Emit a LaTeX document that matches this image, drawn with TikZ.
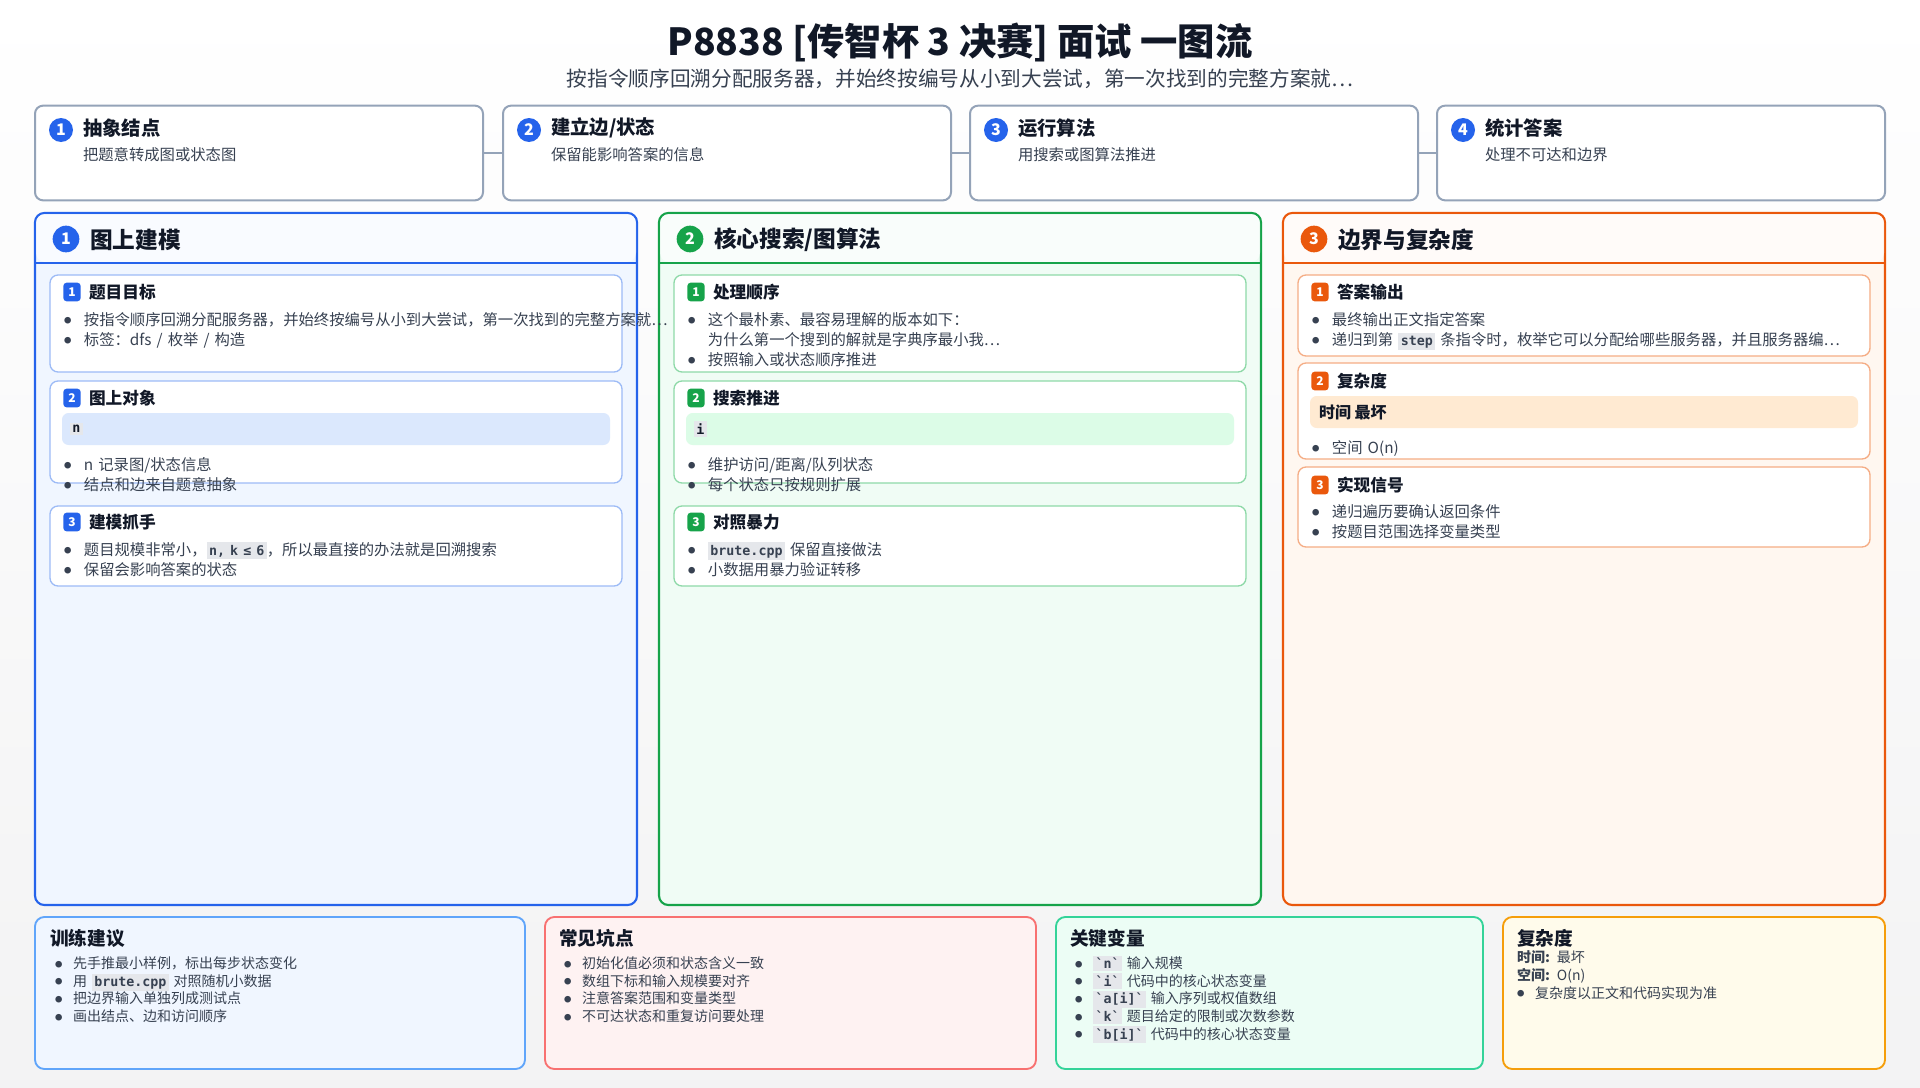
\documentclass[tikz,border=0pt]{standalone}
\usepackage{fontspec}
\setmainfont{Noto Sans CJK SC}[BoldFont={Noto Sans CJK SC Black}]
\setmonofont{DejaVu Sans Mono}
\usetikzlibrary{positioning}
\definecolor{ink}{HTML}{111827}
\definecolor{sub}{HTML}{374151}
\definecolor{bB}{HTML}{2563EB}\definecolor{bF}{HTML}{F0F6FF}\definecolor{bC}{HTML}{9DBBF6}\definecolor{bH}{HTML}{DBE8FD}
\definecolor{gB}{HTML}{16A34A}\definecolor{gF}{HTML}{F0FCF5}\definecolor{gC}{HTML}{8ED9A8}\definecolor{gH}{HTML}{DCFCE7}
\definecolor{oB}{HTML}{EA580C}\definecolor{oF}{HTML}{FFF7F0}\definecolor{oC}{HTML}{F5AD85}\definecolor{oH}{HTML}{FFEAD2}
\definecolor{topB}{HTML}{94A3B8}
\definecolor{chip}{HTML}{E5E7EB}
\newcommand\cc[1]{{\setlength\fboxsep{1.8pt}\colorbox{chip}{\ttfamily\bfseries\fontsize{10}{10}\selectfont #1}}}
\newcommand\bi[1]{\par\hangindent=1.3em\hangafter=1\noindent\makebox[1.3em][l]{\raisebox{0.1em}{\fontsize{5.5}{5.5}\selectfont●}}#1}
\tikzset{
  x=0.75pt,y=-0.75pt,
  every node/.style={inner sep=0pt,outer sep=0pt,text=ink},
  topbox/.style={draw=topB,line width=1.5pt,fill=white,rounded corners=6pt,minimum width=336pt,minimum height=71pt},
  panel/.style={line width=1.6pt,rounded corners=7pt},
  card/.style={line width=1pt,fill=white,rounded corners=6pt},
  num/.style={circle,minimum size=18pt,font=\bfseries\fontsize{12}{12}\selectfont,text=white},
  badge/.style={rounded corners=2.5pt,minimum width=13pt,minimum height=14pt,font=\bfseries\fontsize{9}{9}\selectfont,text=white},
  ptitle/.style={anchor=west,font=\bfseries\fontsize{17}{18}\selectfont},
  ctitle/.style={anchor=west,font=\bfseries\fontsize{12.5}{13}\selectfont},
  body/.style={anchor=north west,align=left,font=\fontsize{11.5}{15}\selectfont,text=sub},
  bbody/.style={anchor=north west,align=left,font=\fontsize{10.5}{13.2}\selectfont,text=sub},
  btitle/.style={anchor=west,font=\bfseries\fontsize{14}{15}\selectfont},
}
\begin{document}
\begin{tikzpicture}
\fill[white] (0,0) rectangle (1920,1088);
\shade[top color=white,bottom color=white!94!blue!40!gray!15] (0,0) rectangle (1920,1088);
\node[font=\bfseries\fontsize{28}{30}\selectfont] (title) at (960,42) {P8838 [传智杯 3 决赛] 面试 一图流};
\node[font=\fontsize{15.5}{17}\selectfont,text=sub] (subt) at (960,79) {按指令顺序回溯分配服务器，并始终按编号从小到大尝试，第一次找到的完整方案就…};
% top steps
\foreach \i/\x/\t/\s in {1/259/{抽象结点}/{把题意转成图或状态图},2/727/{建立边/状态}/{保留能影响答案的信息},3/1194/{运行算法}/{用搜索或图算法推进},4/1661/{统计答案}/{处理不可达和边界}}{
  \node[topbox] (s\i) at (\x,153) {};
  \node[num,fill=bB] (sn\i) at (\x-198,130) {\i};
  \node[anchor=west,font=\bfseries\fontsize{14.5}{15}\selectfont] (st\i) at (\x-176,128) {\t};
  \node[anchor=west,font=\fontsize{11.5}{12}\selectfont,text=sub] (ss\i) at (\x-176,155) {\s};
}
\draw[topB,line width=1.5pt] (s1.east) -- (s2.west) (s2.east) -- (s3.west) (s3.east) -- (s4.west);
% panels
\foreach \dx/\C/\F/\n/\t in {0/bB/bF/1/{图上建模},624/gB/gF/2/{核心搜索/图算法},1248/oB/oF/3/{边界与复杂度}}{
  \draw[panel,draw=\C,fill=\F] (35+\dx,213) rectangle (637+\dx,905);
  \fill[white,opacity=0.6,rounded corners=7pt] (36+\dx,214) rectangle (636+\dx,262);
  \draw[\C,line width=1.6pt] (35+\dx,263) -- (637+\dx,263);
  \node[num,fill=\C,minimum size=20pt] (pn\n) at (66+\dx,239) {\n};
  \node[ptitle] (pt\n) at (90+\dx,240) {\t};
}
% panel 1 cards
\draw[card,draw=bC] (50,275) rectangle (622,372);
\node[badge,fill=bB] (b11) at (72,292) {1}; \node[ctitle] (t11) at (89,292) {题目目标};
\node[body,text width=408pt] (x11) at (64,305) {\bi{按指令顺序回溯分配服务器，并始终按编号从小到大尝试，第一次找到的完整方案就…}\bi{标签：dfs / 枚举 / 构造}};
\draw[card,draw=bC] (50,381) rectangle (622,483);
\node[badge,fill=bB] (b12) at (72,398) {2}; \node[ctitle] (t12) at (89,398) {图上对象};
\fill[bH,rounded corners=5pt] (62,413) rectangle (610,445);
\node[anchor=west] (c12) at (70,429) {\cc{n}};
\node[body,text width=408pt] (x12) at (64,450) {\bi{n 记录图/状态信息}\bi{结点和边来自题意抽象}};
\draw[card,draw=bC] (50,506) rectangle (622,586);
\node[badge,fill=bB] (b13) at (72,522) {3}; \node[ctitle] (t13) at (89,522) {建模抓手};
\node[body,text width=408pt] (x13) at (64,535) {\bi{题目规模非常小，\cc{n, k ≤ 6}，所以最直接的办法就是回溯搜索}\bi{保留会影响答案的状态}};
% panel 2 cards
\draw[card,draw=gC] (674,275) rectangle (1246,372);
\node[badge,fill=gB] (b21) at (696,292) {1}; \node[ctitle] (t21) at (713,292) {处理顺序};
\node[body,text width=408pt] (x21) at (688,305) {\bi{这个最朴素、最容易理解的版本如下： 为什么第一个搜到的解就是字典序最小我…}\bi{按照输入或状态顺序推进}};
\draw[card,draw=gC] (674,381) rectangle (1246,483);
\node[badge,fill=gB] (b22) at (696,398) {2}; \node[ctitle] (t22) at (713,398) {搜索推进};
\fill[gH,rounded corners=5pt] (686,413) rectangle (1234,445);
\node[anchor=west] (c22) at (694,429) {\cc{i}};
\node[body,text width=408pt] (x22) at (688,450) {\bi{维护访问/距离/队列状态}\bi{每个状态只按规则扩展}};
\draw[card,draw=gC] (674,506) rectangle (1246,586);
\node[badge,fill=gB] (b23) at (696,522) {3}; \node[ctitle] (t23) at (713,522) {对照暴力};
\node[body,text width=408pt] (x23) at (688,535) {\bi{\cc{brute.cpp} 保留直接做法}\bi{小数据用暴力验证转移}};
% panel 3 cards
\draw[card,draw=oC] (1298,275) rectangle (1870,356);
\node[badge,fill=oB] (b31) at (1320,292) {1}; \node[ctitle] (t31) at (1337,292) {答案输出};
\node[body,text width=420pt] (x31) at (1312,305) {\bi{最终输出正文指定答案}\bi{递归到第 \cc{step} 条指令时，枚举它可以分配给哪些服务器，并且服务器编…}};
\draw[card,draw=oC] (1298,363) rectangle (1870,459);
\node[badge,fill=oB] (b32) at (1320,381) {2}; \node[ctitle] (t32) at (1337,381) {复杂度};
\fill[oH,rounded corners=5pt] (1310,396) rectangle (1858,428);
\node[anchor=west,font=\bfseries\fontsize{12}{12}\selectfont] (c32) at (1319,412) {时间 最坏};
\node[body,text width=420pt] (x32) at (1312,433) {\bi{空间 O(n)}};
\draw[card,draw=oC] (1298,467) rectangle (1870,547);
\node[badge,fill=oB] (b33) at (1320,485) {3}; \node[ctitle] (t33) at (1337,485) {实现信号};
\node[body,text width=420pt] (x33) at (1312,497) {\bi{递归遍历要确认返回条件}\bi{按题目范围选择变量类型}};
% bottom boxes
\definecolor{qB}{HTML}{60A5FA}
\draw[panel,line width=1.4pt,draw=qB,fill=bF] (35,917) rectangle (525,1069);
\node[btitle] (q1) at (50,938) {训练建议};
\node[bbody,text width=350pt] (q1b) at (55,951) {\bi{先手推最小样例，标出每步状态变化}\bi{用 \cc{brute.cpp} 对照随机小数据}\bi{把边界输入单独列成测试点}\bi{画出结点、边和访问顺序}};
\definecolor{rB}{HTML}{F87171}\definecolor{rF}{HTML}{FEF2F2}
\draw[panel,line width=1.4pt,draw=rB,fill=rF] (545,917) rectangle (1036,1069);
\node[btitle] (q2) at (559,938) {常见坑点};
\node[bbody,text width=350pt] (q2b) at (564,951) {\bi{初始化值必须和状态含义一致}\bi{数组下标和输入规模要对齐}\bi{注意答案范围和变量类型}\bi{不可达状态和重复访问要处理}};
\definecolor{tB}{HTML}{34D399}\definecolor{tF}{HTML}{ECFDF5}
\draw[panel,line width=1.4pt,draw=tB,fill=tF] (1056,917) rectangle (1483,1069);
\node[btitle] (q3) at (1070,938) {关键变量};
\node[bbody,text width=300pt] (q3b) at (1075,951) {\bi{\cc{`n`} 输入规模}\bi{\cc{`i`} 代码中的核心状态变量}\bi{\cc{`a[i]`} 输入序列或权值数组}\bi{\cc{`k`} 题目给定的限制或次数参数}\bi{\cc{`b[i]`} 代码中的核心状态变量}};
\definecolor{aB}{HTML}{F59E0B}\definecolor{aF}{HTML}{FFFBEB}
\draw[panel,line width=1.4pt,draw=aB,fill=aF] (1503,917) rectangle (1885,1069);
\node[btitle] (q4) at (1517,938) {复杂度};
\node[bbody,text width=260pt] (q4b) at (1517,951) {\noindent{\bfseries 时间:} 最坏\par\noindent{\bfseries 空间:} O(n)\par\leftskip=0.8em\bi{复杂度以正文和代码实现为准}};
\end{tikzpicture}
\end{document}
